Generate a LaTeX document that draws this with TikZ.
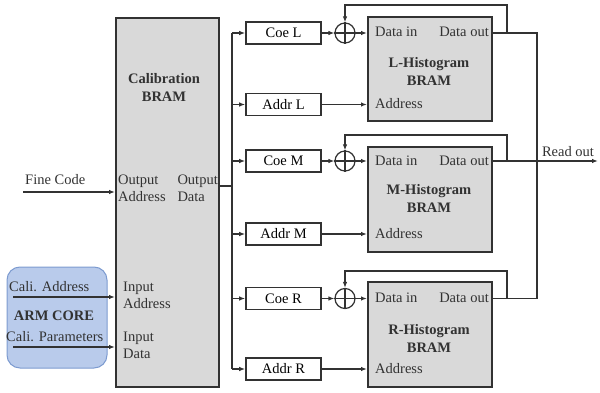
\documentclass[tikz,border=0pt]{standalone}
\usepackage{fontspec}
\setmainfont{Liberation Serif}
\usetikzlibrary{arrows.meta}
\definecolor{boxgray}{RGB}{217,217,217}
\definecolor{linec}{RGB}{50,50,50}
\definecolor{armfill}{RGB}{185,203,235}
\definecolor{armdraw}{RGB}{125,155,208}
\begin{document}
\begin{tikzpicture}[x=1pt,y=-1pt,
 font=\fontsize{14.5}{17}\selectfont,
 box/.style={draw=linec, line width=2pt, fill=boxgray, inner sep=0},
 sbox/.style={draw=linec, line width=1.6pt, fill=white, minimum width=75pt, minimum height=22pt, inner sep=0},
 wire/.style={draw=linec, line width=1.2pt},
 arr/.style={wire, -{Latex[length=6pt,width=4.5pt]}},
 lbl/.style={inner sep=0, align=left, text=linec},
 ttl/.style={inner sep=0, align=center, text=linec, font=\fontsize{14.5}{18}\selectfont\bfseries},
 adder/.style={circle, draw=linec, line width=1.2pt, minimum size=20pt, inner sep=0}]
\useasboundingbox (0,0) rectangle (600,393);

% Calibration BRAM
\node[box, minimum width=103pt, minimum height=369pt] (cal) at (167.5,202.5) {};
\node[ttl] (calt) at (164,87) {Calibration\\BRAM};
\node[lbl, anchor=west] (oa) at (118,188.5) {Output\\Address};
\node[lbl, anchor=east] (od) at (218,188.5) {Output\\Data};
\node[lbl, anchor=west] (ia) at (123,295.5) {Input\\Address};
\node[lbl, anchor=west] (id) at (123,345.5) {Input\\Data};

% ARM core
\node[draw=armdraw, fill=armfill, line width=1pt, rounded corners=13pt, minimum width=100pt, minimum height=101pt, inner sep=0] (arm) at (57,317.5) {};
\node[ttl] (armt) at (54,316) {ARM CORE};
\node[lbl, anchor=west] (caa) at (9,287) {Cali. Address};
\node[lbl, anchor=west] (cap) at (6,337) {Cali. Parameters};
\coordinate (caas) at (13,297);
\coordinate (caps) at (13,347);
\draw[arr] (caas) -- (caas -| cal.west);
\draw[arr] (caps) -- (caps -| cal.west);

% Fine code
\node[lbl, anchor=west] (fct) at (25,180) {Fine Code};
\coordinate (fcs) at (23,192);
\draw[arr] (fcs) -- (fcs -| cal.west);

% small boxes
\node[sbox] (coeL) at (283.5,33) {Coe L};
\node[sbox] (addrL) at (283.5,104.5) {Addr L};
\node[sbox] (coeM) at (283.5,161) {Coe M};
\node[sbox] (addrM) at (283.5,234) {Addr M};
\node[sbox] (coeR) at (283.5,298.5) {Coe R};
\node[sbox] (addrR) at (283.5,369) {Addr R};

% bus
\coordinate (odo) at (219,186);
\coordinate (busO) at (232,186);
\coordinate (busT) at (232,33);
\coordinate (busB) at (232,369);
\draw[wire] (odo) -- (busO);
\draw[wire] (busT) -- (busB);
\foreach \n in {coeL,addrL,coeM,addrM,coeR,addrR}{
  \draw[arr] (busT |- \n.west) -- (\n.west);
}

% histogram boxes
\node[box, minimum width=124pt, minimum height=104pt] (hL) at (430,69) {};
\node[box, minimum width=124pt, minimum height=105pt] (hM) at (430,199.5) {};
\node[box, minimum width=124pt, minimum height=105pt] (hR) at (430,334.5) {};
\node[ttl] (hLt) at (429,71) {L-Histogram\\BRAM};
\node[ttl] (hMt) at (429,198) {M-Histogram\\BRAM};
\node[ttl] (hRt) at (429,338) {R-Histogram\\BRAM};

% adders
\node[adder] (aL) at (345,33) {};
\node[adder] (aM) at (345,161) {};
\node[adder] (aR) at (345,298.5) {};
\foreach \a in {aL,aM,aR}{
  \draw[wire] (\a.north) -- (\a.south) (\a.west) -- (\a.east);
}

% labels in histogram boxes
\node[lbl, anchor=west] (diL) at (375,32) {Data in};
\node[lbl, anchor=east] (doL) at (489,32) {Data out};
\node[lbl, anchor=west] (adL) at (375,104) {Address};
\node[lbl, anchor=west] (diM) at (375,161) {Data in};
\node[lbl, anchor=east] (doM) at (489,161) {Data out};
\node[lbl, anchor=west] (adM) at (375,234) {Address};
\node[lbl, anchor=west] (diR) at (375,297.5) {Data in};
\node[lbl, anchor=east] (doR) at (489,297.5) {Data out};
\node[lbl, anchor=west] (adR) at (375,369) {Address};

% coe -> adder -> data in
\draw[arr] (coeL.east) -- (aL.west);
\draw[arr] (aL.east) -- (aL.east -| hL.west);
\draw[arr] (coeM.east) -- (aM.west);
\draw[arr] (aM.east) -- (aM.east -| hM.west);
\draw[arr] (coeR.east) -- (aR.west);
\draw[arr] (aR.east) -- (aR.east -| hR.west);
% addr -> address
\draw[arr] (addrL.east) -- (addrL.east -| hL.west);
\draw[arr] (addrM.east) -- (addrM.east -| hM.west);
\draw[arr] (addrR.east) -- (addrR.east -| hR.west);

% feedback loops
\coordinate (fbL) at (507,5);
\coordinate (fbM) at (507,135);
\coordinate (fbR) at (507,271);
\draw[arr] (aL.east -| hL.east) -| (fbL) -| (aL.north);
\draw[arr] (aM.east -| hM.east) -| (fbM) -| (aM.north);
\draw[arr] (aR.east -| hR.east) -| (fbR) -| (aR.north);

% read out
\coordinate (roX) at (537,33);
\coordinate (roE) at (598,161);
\draw[wire] (aL.east -| hL.east) -- (roX) |- (aR.east -| hR.east);
\draw[arr] (aM.east -| hM.east) -- (roE);
\node[lbl, anchor=center] (rot) at (568,152) {Read out};
\end{tikzpicture}
\end{document}
